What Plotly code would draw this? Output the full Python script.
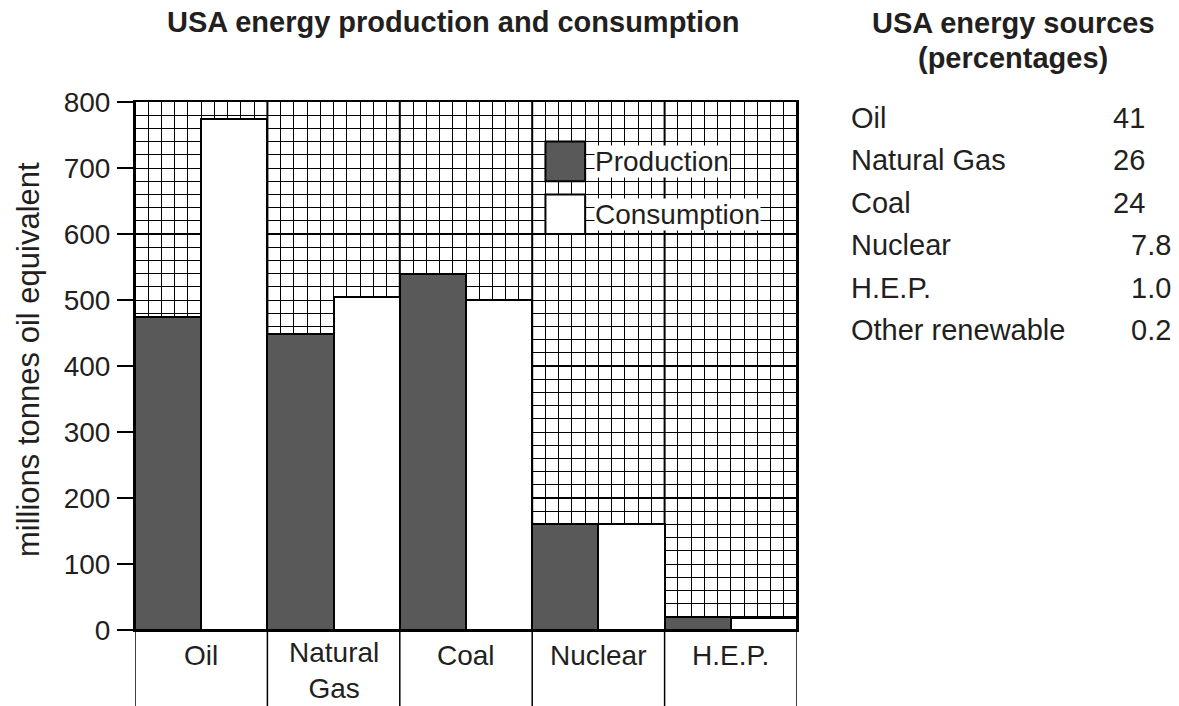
import plotly.graph_objects as go

categories = ["Oil", "Natural<br>Gas", "Coal", "Nuclear", "H.E.P."]
production = [475, 448, 540, 160, 20]
consumption = [775, 505, 500, 160, 18]
y_ticks = [0, 100, 200, 300, 400, 500, 600, 700, 800]

source_names = ["Oil", "Natural Gas", "Coal", "Nuclear", "H.E.P.", "Other renewable"]
source_pct = ["41", "26", "24", "7.8", "1.0", "0.2"]

FONT = "Liberation Sans, Arial, Helvetica, sans-serif"
W, H = 1179, 706
L, R, T, B = 135, 797, 102, 630
pw, ph = R - L, B - T


def px_x(x):
    return (x - L) / pw


def px_y(y):
    return (B - y) / ph


xpos = list(range(len(categories)))

fig = go.Figure()
fig.add_trace(go.Bar(
    x=xpos, y=production, name="Production",
    marker=dict(color="#595959", line=dict(color="black", width=2)),
    showlegend=False,
))
fig.add_trace(go.Bar(
    x=xpos, y=consumption, name="Consumption",
    marker=dict(color="white", line=dict(color="black", width=2)),
    showlegend=False,
))

shapes = []
for v in [200, 400, 600]:
    shapes.append(dict(type="line", xref="paper", yref="y", x0=0, x1=1, y0=v, y1=v,
                       line=dict(color="black", width=2), layer="between"))
for i in range(len(categories) + 1):
    xb = i - 0.5
    shapes.append(dict(type="line", xref="x", yref="paper", x0=xb, x1=xb, y0=0, y1=1,
                       line=dict(color="black", width=2), layer="between"))
    shapes.append(dict(type="line", xref="x", yref="paper", x0=xb, x1=xb,
                       y0=px_y(H), y1=0, line=dict(color="black", width=1.5), layer="above"))

shapes.append(dict(type="rect", xref="x", yref="y", x0=2.6, x1=2.9, y0=680, y1=740,
                   fillcolor="#595959", line=dict(color="black", width=2), layer="above"))
shapes.append(dict(type="rect", xref="x", yref="y", x0=2.6, x1=2.9, y0=600, y1=660,
                   fillcolor="white", line=dict(color="black", width=2), layer="above"))

TXT = "#231f20"
annotations = [
    dict(text="Production", x=2.97, y=710, xref="x", yref="y", xanchor="left", yanchor="middle",
         showarrow=False, bgcolor="white", borderpad=0, font=dict(size=28, color=TXT, family=FONT)),
    dict(text="Consumption", x=2.97, y=630, xref="x", yref="y", xanchor="left", yanchor="middle",
         showarrow=False, bgcolor="white", borderpad=0, font=dict(size=28, color=TXT, family=FONT)),
    dict(text="<b>USA energy production and consumption</b>", x=px_x(453), y=px_y(22),
         xref="paper", yref="paper", xanchor="center", yanchor="middle", showarrow=False,
         font=dict(size=29, color=TXT, family=FONT)),
    dict(text="<b>USA energy sources</b>", x=px_x(1013), y=px_y(23),
         xref="paper", yref="paper", xanchor="center", yanchor="middle", showarrow=False,
         font=dict(size=29, color=TXT, family=FONT)),
    dict(text="<b>(percentages)</b>", x=px_x(1013), y=px_y(58),
         xref="paper", yref="paper", xanchor="center", yanchor="middle", showarrow=False,
         font=dict(size=29, color=TXT, family=FONT)),
    dict(text="millions tonnes oil equivalent", x=px_x(28), y=px_y(360), textangle=-90,
         xref="paper", yref="paper", xanchor="center", yanchor="middle", showarrow=False,
         font=dict(size=31, color=TXT, family=FONT)),
]

# category labels under the axis
for xi, cat in zip(xpos, categories):
    cy = 670 if "<br>" in cat else 655
    annotations.append(dict(text=cat, x=xi, y=px_y(cy), xref="x", yref="paper",
                            xanchor="center", yanchor="middle", showarrow=False,
                            font=dict(size=28, color=TXT, family=FONT)))

row_y = [118, 160, 203, 245, 288, 330]
for name, pct, ry in zip(source_names, source_pct, row_y):
    annotations.append(dict(text=name, x=px_x(849), y=px_y(ry), xref="paper", yref="paper",
                            xanchor="left", yanchor="middle", showarrow=False,
                            font=dict(size=29, color=TXT, family=FONT)))
    right = 1173 if "." in pct else 1147
    annotations.append(dict(text=pct, x=px_x(right), y=px_y(ry), xref="paper", yref="paper",
                            xanchor="right", yanchor="middle", showarrow=False,
                            font=dict(size=29, color=TXT, family=FONT)))

fig.update_layout(
    width=W, height=H,
    margin=dict(l=L, r=W - R, t=T, b=H - B, pad=0, autoexpand=False),
    paper_bgcolor="white", plot_bgcolor="white",
    barmode="group", bargap=0, bargroupgap=0,
    font=dict(family=FONT, size=28, color=TXT),
    shapes=shapes, annotations=annotations,
    showlegend=False,
    xaxis=dict(
        range=[-0.5, 4.5], tickmode="array", tickvals=xpos, ticktext=[""] * len(xpos),
        showticklabels=False,
        ticks="", showgrid=True, gridcolor="black", gridwidth=1,
        minor=dict(tick0=-0.5, dtick=0.1, showgrid=True, gridcolor="black", gridwidth=1, ticks=""),
        showline=True, linecolor="black", linewidth=2, mirror=True,
        zeroline=False, fixedrange=True, automargin=False,
    ),
    yaxis=dict(
        range=[0, 800], tickmode="array", tickvals=y_ticks,
        ticks="outside", ticklen=16, tickwidth=1.5, tickcolor="black",
        showgrid=True, gridcolor="black", gridwidth=1,
        minor=dict(tick0=0, dtick=20, showgrid=True, gridcolor="black", gridwidth=1, ticks=""),
        showline=True, linecolor="black", linewidth=2, mirror=True,
        tickfont=dict(size=28, family=FONT, color=TXT), ticklabelstandoff=1,
        zeroline=False, fixedrange=True, automargin=False,
    ),
)

fig.write_html("out.html", config={"displayModeBar": False},
               post_script="document.body.style.margin='0';document.body.style.overflow='hidden';")
